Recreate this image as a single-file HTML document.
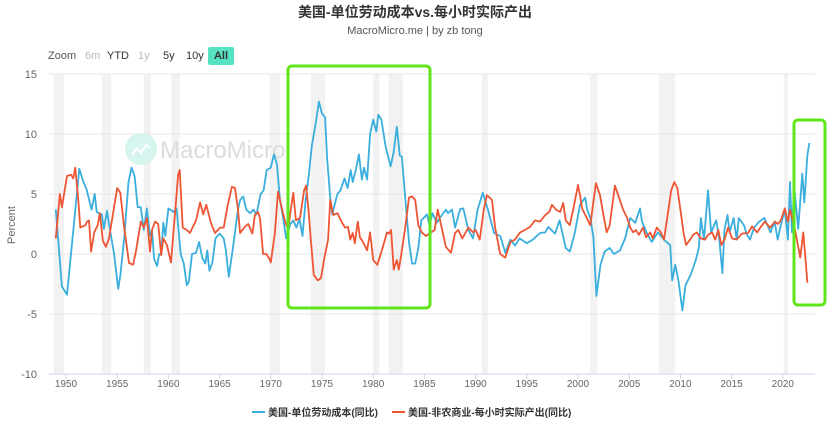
<!DOCTYPE html>
<html><head><meta charset="utf-8"><style>
body{margin:0;background:#fff;font-family:"Liberation Sans","Noto Sans CJK SC",sans-serif;}
#wrap{position:relative;width:830px;height:434px;overflow:hidden;}
.btn{position:absolute;top:47px;font-size:11px;color:#333;height:18px;line-height:18px;}
</style></head><body>
<div id="wrap">
<svg id="chart" width="830" height="434" style="position:absolute;left:0;top:0">
<g id="bands"></g><g id="grid"></g>
<g>
<circle cx="141" cy="149" r="16" fill="#d6f5ee"/>
<polyline points="132,155 137,148 141,153 146,145 150,148" fill="none" stroke="#fff" stroke-width="2"/>
<text x="160" y="158" font-size="24" fill="#dcdcdc" font-family="Liberation Sans,sans-serif">MacroMicro</text>
</g>
<g id="series"></g><g id="axes"></g>
<text x="415" y="17" text-anchor="middle" font-size="14" font-weight="bold" fill="#333">美国-单位劳动成本vs.每小时实际产出</text>
<text x="415" y="34" text-anchor="middle" font-size="11" fill="#555">MacroMicro.me | by zb tong</text>
<text transform="translate(15,225) rotate(-90)" text-anchor="middle" font-size="11" fill="#666">Percent</text>
<g>
<line x1="252" y1="412" x2="265" y2="412" stroke="#3aaedc" stroke-width="2"/>
<text x="268" y="416" font-size="10" font-weight="600" fill="#333">美国-单位劳动成本(同比)</text>
<line x1="392" y1="412" x2="405" y2="412" stroke="#ee5533" stroke-width="2"/>
<text x="408" y="416" font-size="10" font-weight="600" fill="#333">美国-非农商业-每小时实际产出(同比)</text>
</g>
<rect x="288" y="66" width="142" height="242" rx="4" fill="none" stroke="#5ee61b" stroke-width="3"/>
<rect x="794" y="120" width="31" height="185" rx="4" fill="none" stroke="#5ee61b" stroke-width="3"/>
</svg>
<div class="btn" style="left:48px;color:#555">Zoom</div>
<div class="btn" style="left:85px;color:#bbb">6m</div>
<div class="btn" style="left:107px">YTD</div>
<div class="btn" style="left:138px;color:#bbb">1y</div>
<div class="btn" style="left:163px">5y</div>
<div class="btn" style="left:186px">10y</div>
<div class="btn" style="left:208px;width:26px;text-align:center;background:#55e3c3;font-weight:bold;border-radius:2px">All</div>
</div>
<script>
const yTicks=[15,10,5,0,-5,-10];
const xTicks=[1950,1955,1960,1965,1970,1975,1980,1985,1990,1995,2000,2005,2010,2015,2020];
const recessions=[[1948.8,1949.8],[1953.5,1954.4],[1957.6,1958.3],[1960.3,1961.1],[1969.9,1970.9],[1973.9,1975.3],[1980.0,1980.6],[1981.5,1982.9],[1990.6,1991.2],[2001.2,2001.9],[2007.9,2009.5],[2020.1,2020.5]];
const blueYears=[1949.0,1949.6,1950.1,1951.3,1951.7,1952.0,1952.5,1952.8,1953.0,1953.5,1953.7,1954.0,1954.3,1954.7,1955.1,1955.3,1955.7,1956.1,1956.4,1956.7,1957.0,1957.3,1957.6,1957.9,1958.2,1958.4,1958.6,1958.9,1959.1,1959.3,1959.5,1959.7,1960.0,1960.5,1960.8,1961.2,1961.5,1961.8,1962.0,1962.3,1962.7,1963.0,1963.3,1963.6,1963.8,1964.0,1964.3,1964.6,1965.0,1965.4,1965.6,1965.9,1966.3,1966.8,1967.0,1967.3,1967.6,1968.0,1968.3,1968.6,1969.0,1969.3,1969.6,1970.0,1970.3,1970.6,1970.9,1971.2,1971.5,1971.9,1972.2,1972.5,1972.8,1973.1,1973.4,1973.7,1974.0,1974.4,1974.7,1975.0,1975.3,1975.5,1975.8,1976.0,1976.2,1976.5,1976.8,1977.2,1977.5,1977.8,1978.0,1978.3,1978.6,1978.9,1979.1,1979.4,1979.7,1980.0,1980.3,1980.5,1980.8,1981.2,1981.7,1982.0,1982.3,1982.6,1982.8,1983.1,1983.5,1983.8,1984.1,1984.4,1984.7,1985.25,1985.5,1985.8,1986.2,1986.5,1987.1,1987.3,1987.7,1988.0,1988.5,1988.8,1989.3,1989.75,1990.2,1990.7,1991.2,1991.8,1992.4,1992.9,1993.4,1993.85,1994.3,1995.0,1995.6,1996.3,1996.8,1997.1,1997.75,1998.2,1998.8,1999.2,1999.7,2000.2,2000.7,2000.9,2001.2,2001.5,2001.8,2002.2,2002.6,2003.1,2003.5,2004.1,2004.6,2005.1,2005.6,2006.05,2006.25,2006.7,2007.2,2007.8,2008.5,2009.0,2009.2,2009.5,2009.8,2010.2,2010.5,2011.0,2011.5,2011.8,2012.0,2012.3,2012.7,2013.0,2013.5,2013.8,2014.1,2014.3,2014.6,2014.8,2015.2,2015.5,2015.7,2016.2,2016.5,2016.8,2017.2,2017.7,2018.2,2018.5,2018.8,2019.2,2019.5,2019.8,2020.2,2020.5,2020.7,2020.9,2021.1,2021.5,2021.9,2022.1,2022.4,2022.6];
const blueValues=[3.7,-2.7,-3.4,7.1,6.0,5.4,3.7,5.0,3.5,3.3,2.1,3.6,2.0,0,-2.9,-1.8,1.5,6.0,7.2,6.5,3.9,3.9,2.0,3.8,1.5,2.0,-0.4,-1.0,0,0,2.6,1.5,3.8,3.5,3.8,0,-0.8,-2.6,-2.3,0,0.1,1.0,-0.3,-0.8,0.3,-1.4,-0.7,1.3,1.7,1.3,0.4,-1.9,0.5,3.7,4.5,4.8,3.7,3.4,3.7,3.3,5.0,5.3,7.0,7.2,8.3,7.5,4.5,3.0,1.3,2.5,2.8,2.2,2.9,1.5,4.5,6.5,9.0,11.0,12.7,11.7,11.4,8.0,4.7,3.3,4.0,5.0,5.3,6.3,5.5,7.0,6.0,7.0,8.3,6.2,7.2,6.2,10.0,11.2,10.2,11.6,11.2,9.0,7.3,8.5,10.6,8.2,8.1,5.0,1.0,-0.8,-0.8,0.5,2.8,3.3,2.4,3.4,2.6,3.0,3.7,3.4,3.7,2.2,3.75,3.8,2.0,1.3,3.7,5.1,3.7,1.75,1.5,0.1,1.2,0.7,1.3,0.9,1.2,1.75,1.8,2.25,1.7,2.8,0.5,0.2,1.8,4.1,4.7,3.7,3.0,1.4,-3.5,-0.9,0.2,0.5,0,0.3,1.3,3.0,2.6,3.8,2.7,1.8,1.0,1.8,1.1,0.75,-2.2,-0.9,-2.2,-4.7,-2.6,-1.75,-0.5,0.5,3.0,1.2,5.3,1.8,2.8,1.2,-1.6,2.0,3.25,1.8,3.0,1.2,3.0,2.4,1.6,1.2,2.2,2.7,3.0,2.4,1.8,2.7,1.2,2.4,3.7,1.2,6.0,1.8,5.75,2.1,6.7,4.3,8.25,9.25];
const redYears=[1949.0,1949.4,1949.6,1950.1,1950.5,1950.7,1950.9,1951.2,1951.4,1951.9,1952.05,1952.25,1952.45,1952.75,1953.1,1953.3,1953.6,1953.9,1954.2,1955.0,1955.3,1955.65,1956.15,1956.55,1956.85,1957.3,1957.6,1957.9,1958.2,1958.4,1958.7,1959.0,1959.3,1959.5,1959.85,1960.25,1960.75,1960.95,1961.1,1961.4,1961.8,1962.1,1962.7,1963.1,1963.4,1963.7,1964.15,1964.55,1965.05,1965.4,1965.8,1966.2,1966.5,1966.8,1967.0,1967.5,1967.8,1968.2,1968.45,1968.75,1968.95,1969.25,1969.55,1969.8,1970.0,1970.4,1970.7,1971.1,1971.4,1971.7,1971.9,1972.2,1972.45,1972.85,1973.25,1973.45,1973.7,1973.9,1974.2,1974.6,1974.9,1975.2,1975.6,1975.8,1976.1,1976.5,1976.85,1977.25,1977.55,1977.75,1978.0,1978.2,1978.5,1978.7,1979.0,1979.4,1979.7,1980.0,1980.4,1980.85,1981.35,1981.55,1981.75,1982.0,1982.3,1982.5,1982.8,1983.1,1983.5,1983.8,1984.1,1984.4,1984.75,1985.15,1986.0,1986.3,1987.1,1987.6,1988.0,1988.3,1988.7,1989.3,1989.75,1990.0,1990.4,1990.8,1991.1,1991.6,1991.9,1992.4,1992.9,1993.4,1993.85,1994.35,1994.8,1995.3,1995.8,1996.3,1996.8,1997.2,1997.45,1997.85,1998.25,1998.55,1998.8,1999.2,1999.6,2000.0,2000.2,2000.4,2001.2,2001.75,2002.15,2002.45,2002.8,2003.1,2003.6,2004.0,2004.4,2004.8,2005.1,2005.4,2005.65,2005.95,2006.35,2006.65,2007.05,2007.3,2007.7,2008.1,2008.4,2008.8,2009.1,2009.4,2009.7,2010.0,2010.3,2010.55,2010.95,2011.25,2011.6,2012.0,2012.4,2012.7,2013.1,2013.4,2013.7,2014.0,2014.35,2014.65,2015.05,2015.5,2016.0,2016.6,2017.0,2017.5,2017.8,2018.25,2018.75,2019.25,2019.5,2019.8,2020.2,2020.5,2020.7,2021.2,2021.7,2022.0,2022.4];
const redValues=[1.3,5.0,3.9,6.5,6.6,6.3,7.2,4.5,2.2,2.4,2.7,2.8,0.2,1.8,2.4,3.4,1.1,0.6,1.3,5.5,5.1,2.4,-0.75,-0.9,0.3,2.7,2.2,3.0,0.2,2.0,2.7,2.5,-0.1,1.3,0.75,-0.7,4.5,6.6,7.0,2.2,2.0,1.75,2.8,4.3,3.3,4.1,2.6,1.75,2.2,2.2,4.1,5.6,5.5,3.7,1.75,2.3,2.5,1.7,3.25,3.5,3.0,0,0,-0.3,-0.7,1.75,5.2,3.7,2.7,2.0,3.4,5.1,2.8,3.0,5.3,5.7,3.5,1.3,-1.75,-2.2,-2.0,-0.5,1.2,4.5,3.25,3.4,2.8,2.2,2.25,1.2,1.75,0.9,2.7,1.4,1.0,0.3,1.8,-0.5,-0.9,0.3,1.8,1.7,2.0,-1.3,-0.5,-1.3,0.3,2.0,4.7,4.8,4.5,2.4,1.8,1.5,2.0,3.7,0.6,0.1,1.75,2.0,1.3,2.2,1.8,2.0,1.2,3.7,4.9,4.5,2.2,0,-0.3,1.0,1.2,1.8,2.0,2.25,2.8,2.7,3.25,3.5,4.1,3.7,3.5,4.25,2.8,2.4,4.0,5.75,4.9,3.8,2.4,5.9,4.9,3.4,1.8,2.4,5.7,4.7,3.7,3.0,2.2,1.8,2.0,1.6,2.2,1.4,1.8,1.3,2.2,1.8,1.2,3.5,5.3,6.0,5.5,3.7,1.8,0.75,1.2,1.6,1.8,1.3,1.2,1.6,1.8,1.2,2.0,0.75,1.3,2.2,1.3,1.2,1.7,1.75,2.3,1.8,2.2,2.7,2.2,2.7,2.5,2.8,3.8,2.7,3.7,2.0,-0.3,1.8,-2.4];

const NS='http://www.w3.org/2000/svg';
const X0=49,X1=815;
function xs(yr){return 66+(yr-1950)*10.24;}
function ys(v){return 254-12*v;}
function mk(tag,attrs,parent){const e=document.createElementNS(NS,tag);for(const k in attrs)e.setAttribute(k,attrs[k]);parent.appendChild(e);return e;}
const bands=document.getElementById('bands'),grid=document.getElementById('grid'),series=document.getElementById('series'),axes=document.getElementById('axes');
recessions.forEach(r=>{const e=mk('rect',{x:xs(r[0]),y:ys(15),width:xs(r[1])-xs(r[0]),height:ys(-10)-ys(15),fill:'#f2f2f2'},bands);

});
yTicks.forEach(t=>{const l=mk('line',{x1:X0,x2:X1,y1:ys(t),y2:ys(t),stroke:t===-10?'#ccd6eb':'#e6e6e6','stroke-width':1},grid);


const tx=mk('text',{x:37,y:ys(t)+4,'text-anchor':'end','font-size':11,fill:'#666'},axes);tx.textContent=t;

});
xTicks.forEach(t=>{const tk=mk('line',{x1:xs(t),x2:xs(t),y1:ys(-10),y2:ys(-10)+5,stroke:'#ccd6eb'},axes);


const tx=mk('text',{x:xs(t),y:ys(-10)+13,'text-anchor':'middle','font-size':10,fill:'#666'},axes);tx.textContent=t;

});
function line(years,vals,color,name){const p=mk('path',{d:years.map((y,i)=>(i?'L':'M')+xs(y).toFixed(1)+','+ys(vals[i]).toFixed(1)).join(''),fill:'none',stroke:color,'stroke-width':1.8,'stroke-linejoin':'round'},series);

}
line(blueYears,blueValues,'#3aaedc','series-unit-labor-cost');
line(redYears,redValues,'#ee5533','series-output-per-hour');
</script>
</body></html>
